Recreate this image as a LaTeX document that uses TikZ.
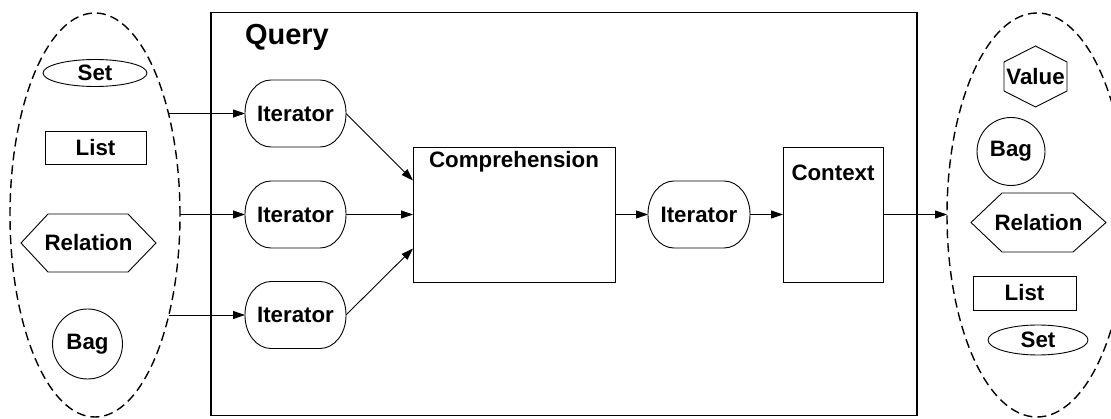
\documentclass[tikz,border=0pt]{standalone}
\usepackage{fontspec}
\setmainfont{Liberation Sans}
\usetikzlibrary{arrows.meta,shapes.geometric}

% frame of an iterator: a box with elliptic ends (corners 26pt wide, 33pt high)
\newcommand\iterframe[1]{%
  \draw[thin] ([xshift=26pt]#1.north west) -- ([xshift=-26pt]#1.north east)
    .. controls ([xshift=-11.6pt]#1.north east) and ([yshift=-14.8pt]#1.north east) .. ([yshift=-33pt]#1.north east)
    -- ([yshift=33pt]#1.south east)
    .. controls ([yshift=14.8pt]#1.south east) and ([xshift=-11.6pt]#1.south east) .. ([xshift=-26pt]#1.south east)
    -- ([xshift=26pt]#1.south west)
    .. controls ([xshift=11.6pt]#1.south west) and ([yshift=14.8pt]#1.south west) .. ([yshift=33pt]#1.south west)
    -- ([yshift=-33pt]#1.north west)
    .. controls ([yshift=-14.8pt]#1.north west) and ([xshift=11.6pt]#1.north west) .. cycle;}
% flat hexagon around a node: #2 = horizontal depth of the left point, #3 of the right one
\newcommand\hexframe[3]{%
  \draw[thin] (#1.west) -- ([xshift=#2]#1.north west) -- ([xshift=-#3]#1.north east)
    -- (#1.east) -- ([xshift=-#3]#1.south east) -- ([xshift=#2]#1.south west) -- cycle;}

\begin{document}
\begin{tikzpicture}[x=1pt,y=-1pt,
  txt/.style={font=\fontsize{22.3}{25}\selectfont\bfseries, inner sep=0pt, outer sep=0pt},
  thin/.style={line width=0.9pt},
  group/.style={ellipse, draw, line width=1.4pt, dash pattern=on 9pt off 5pt, inner sep=0pt, outer sep=0pt},
  setshape/.style={txt, ellipse, draw, thin},
  listshape/.style={txt, rectangle, draw, thin},
  bagshape/.style={txt, circle, draw, thin},
  iter/.style={txt, rectangle, minimum width=101pt, minimum height=67pt},
  box/.style={rectangle, draw, thin, inner sep=0pt, outer sep=0pt},
  arr/.style={thin, -{Triangle[length=12pt,width=8pt]}}
]
\useasboundingbox (0,0) rectangle (1111,419);
\clip (0,0) rectangle (1111,419);

% query frame
\node[rectangle, draw, line width=1.8pt, inner sep=0pt, outer sep=0pt,
      minimum width=706pt, minimum height=403pt] (query) at (564,214) {};
\node[txt, font=\fontsize{29}{32}\selectfont\bfseries, anchor=base west] (qlbl) at (245,45) {Query};

% input collections
\node[group, minimum width=170pt, minimum height=404pt] (lgrp) at (95,215) {};
\node[setshape, minimum width=104pt, minimum height=27pt] (lset) at (95,73) {Set};
\node[listshape, minimum width=101pt, minimum height=33pt] (llist) at (95.5,147.5) {List};
\node[txt, minimum width=135pt, minimum height=58pt] (lrel) at (88.5,243) {Relation};
\hexframe{lrel}{27pt}{28pt}
\node[bagshape, minimum size=70pt] (lbag) at (87.5,344) {Bag};

% iterators and comprehension
\node[iter] (it1) at (295.5,113.5) {Iterator};
\node[iter] (it2) at (295.5,214.5) {Iterator};
\node[iter] (it3) at (295.5,315) {Iterator};
\iterframe{it1}
\iterframe{it2}
\iterframe{it3}
\node[box, minimum width=202pt, minimum height=135pt] (comp) at (514,214.5) {};
\node[txt, anchor=base] (complbl) at (514,168) {Comprehension};
\node[iter, minimum width=102pt] (it4) at (699,214.5) {Iterator};
\iterframe{it4}
\node[box, minimum width=100pt, minimum height=135pt] (ctx) at (833,214.5) {};
\node[txt, anchor=base] (ctxlbl) at (833,181) {Context};

% output collections
\node[group, minimum width=180pt, minimum height=404pt] (rgrp) at (1037,215) {};
\node[txt, minimum width=63pt, minimum height=61pt] (rval) at (1035.5,76.5) {Value};
\draw[thin] (rval.north) -- ([yshift=-16pt]rval.north west) -- ([yshift=16pt]rval.south west)
  -- (rval.south) -- ([yshift=16pt]rval.south east) -- ([yshift=-16pt]rval.north east) -- cycle;
\node[bagshape, minimum size=68pt] (rbag) at (1011,151.5) {Bag};
\node[txt, minimum width=135pt, minimum height=59pt] (rrel) at (1038.5,222.5) {Relation};
\hexframe{rrel}{31pt}{33pt}
\node[listshape, minimum width=103pt, minimum height=34pt] (rlist) at (1024.5,293) {List};
\node[setshape, minimum width=100pt, minimum height=30pt] (rset) at (1038,340) {Set};

% connectors
\draw[arr] (lgrp.54 |- it1.west) -- (it1.west);
\draw[arr] (lgrp.east |- it2.west) -- (it2.west);
\draw[arr] (lgrp.-54 |- it3.west) -- (it3.west);
\draw[arr] (it1.east) -- ([yshift=34pt]comp.west);
\draw[arr] (it2.east) -- (comp.west);
\draw[arr] (it3.east) -- ([yshift=-34pt]comp.west);
\draw[arr] (comp.east) -- (it4.west);
\draw[arr] (it4.east) -- (ctx.west);
\draw[arr] (ctx.east) -- (rgrp.west |- ctx.east);
\end{tikzpicture}
\end{document}
